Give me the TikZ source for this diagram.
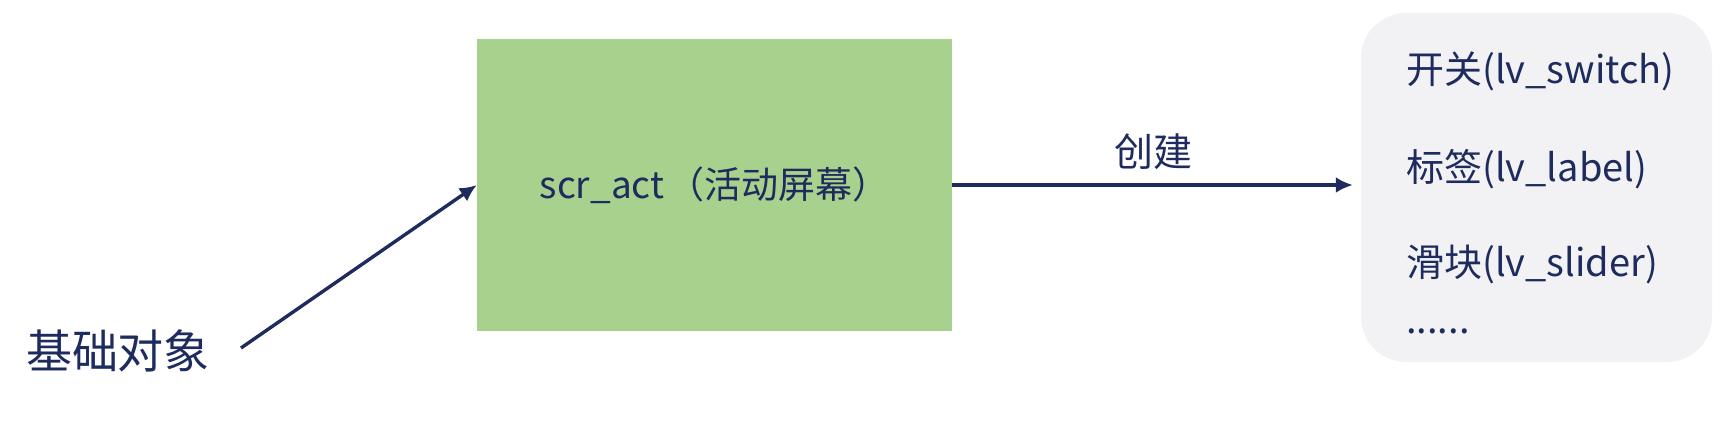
\documentclass[tikz,border=0pt]{standalone}
\usepackage{fontspec}
\setmainfont{Noto Sans CJK SC}
\usetikzlibrary{arrows.meta}
\definecolor{navy}{RGB}{30,43,94}
\definecolor{boxgreen}{RGB}{169,209,142}
\definecolor{listgray}{RGB}{242,242,244}
\tikzset{
  txt/.style={text=navy, inner sep=0pt},
  arr/.style={draw=navy, line width=3.4pt, -{Latex[length=17pt,width=16pt]}},
  listitem/.style={txt, anchor=base west, font=\fontsize{38}{42}\selectfont}
}
\begin{document}
\begin{tikzpicture}[x=1pt,y=-1pt]
\useasboundingbox (0,0) rectangle (1732,437);
% left label
\node[txt, font=\fontsize{46}{50}\selectfont] (base) at (118,351) {基础对象};
% green box
\node[fill=boxgreen, minimum width=475pt, minimum height=292pt, inner sep=0pt,
      text=navy, font=\fontsize{37}{42}\selectfont] (scr) at (714.5,185) {scr\_act\hspace{0.08em}（活动屏幕）};
% gray list box
\node[fill=listgray, rounded corners=45pt, minimum width=351pt, minimum height=349pt, inner sep=0pt] (list) at (1536.5,187.5) {};
\node[listitem] (i1) at (1406,83) {开关(lv\_switch)};
\node[listitem] (i2) at (1406,181) {标签(lv\_label)};
\node[listitem] (i3) at (1406,276) {滑块(lv\_slider)};
\node[listitem] (i4) at (1406,333) {......};
% arrows
\coordinate (a1s) at (241,348);
\draw[arr] (a1s) -- (scr.west);
\draw[arr, shorten >=8pt] (scr.east) -- (scr.east -| list.west);
\node[txt, font=\fontsize{39}{42}\selectfont] (create) at (1153,152) {创建};
\end{tikzpicture}
\end{document}
